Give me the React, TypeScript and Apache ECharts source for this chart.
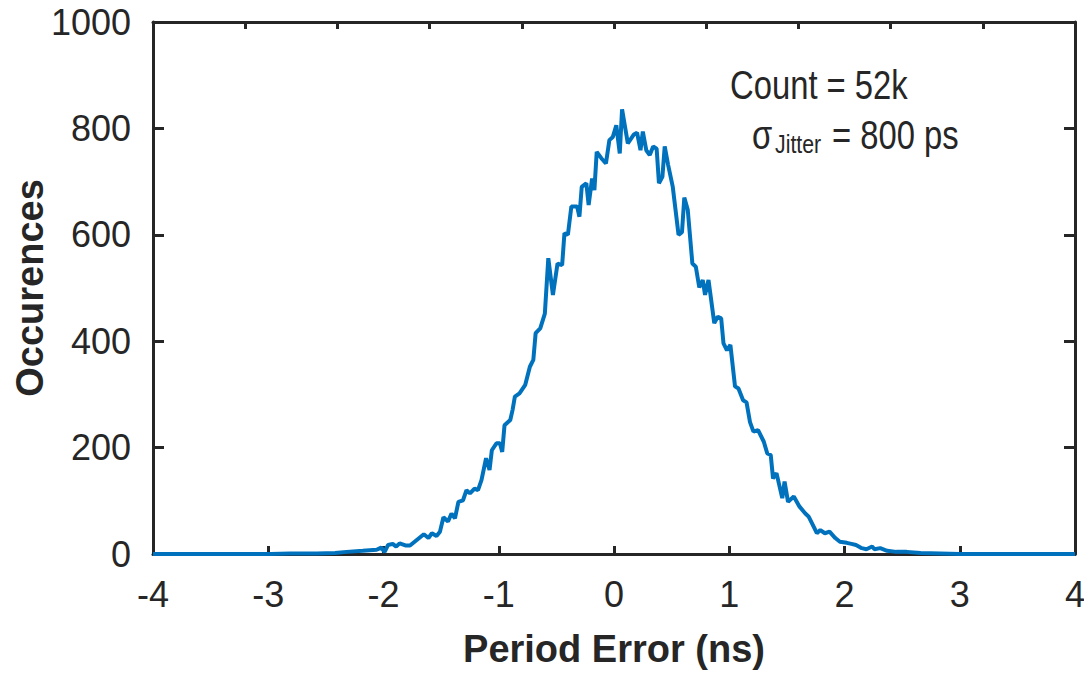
import React, { useEffect, useRef } from "react";
import * as echarts from "echarts";

const errNs: number[] = [
  -4.0, -3.6, -3.2, -2.98, -2.81, -2.58, -2.42, -2.32, -2.18, -2.06,
  -2.02, -1.99, -1.96, -1.92, -1.89, -1.86, -1.81, -1.77, -1.73, -1.65,
  -1.61, -1.58, -1.54, -1.51, -1.48, -1.44, -1.41, -1.38, -1.35, -1.31,
  -1.28, -1.25, -1.21, -1.18, -1.15, -1.11, -1.08, -1.06, -1.02, -0.99,
  -0.97, -0.95, -0.9, -0.88, -0.86, -0.82, -0.77, -0.73, -0.7, -0.68,
  -0.64, -0.6, -0.57, -0.53, -0.49, -0.45, -0.43, -0.4, -0.37, -0.32,
  -0.3, -0.28, -0.24, -0.22, -0.19, -0.17, -0.15, -0.11, -0.07, -0.04,
  -0.01, 0.02, 0.05, 0.07, 0.12, 0.17, 0.2, 0.23, 0.25, 0.28,
  0.31, 0.34, 0.37, 0.39, 0.42, 0.44, 0.47, 0.51, 0.56, 0.59,
  0.61, 0.64, 0.68, 0.71, 0.74, 0.77, 0.79, 0.82, 0.87, 0.9,
  0.93, 0.95, 0.98, 1.01, 1.05, 1.08, 1.12, 1.15, 1.18, 1.21,
  1.25, 1.3, 1.33, 1.36, 1.38, 1.41, 1.46, 1.48, 1.51, 1.56,
  1.61, 1.66, 1.69, 1.74, 1.76, 1.79, 1.83, 1.87, 1.92, 1.96,
  2.02, 2.06, 2.1, 2.15, 2.19, 2.24, 2.26, 2.31, 2.37, 2.45,
  2.54, 2.66, 2.83, 3.0, 3.3, 3.6, 4.0,
];

const occurences: number[] = [
  0, 0, 0, 0, 1, 1, 2, 4, 6, 8,
  12, 4, 17, 19, 14, 20, 16, 16, 23, 37,
  30, 39, 34, 42, 69, 61, 76, 67, 98, 101,
  120, 114, 123, 120, 139, 180, 158, 195, 208, 208,
  192, 242, 252, 271, 296, 302, 318, 352, 365, 415,
  424, 452, 556, 487, 546, 543, 603, 600, 653, 653,
  634, 690, 697, 656, 706, 684, 756, 744, 734, 778,
  784, 806, 753, 836, 772, 788, 792, 759, 794, 759,
  750, 766, 762, 697, 709, 766, 731, 690, 600, 605,
  670, 647, 546, 540, 501, 515, 487, 515, 434, 446,
  443, 396, 383, 393, 315, 311, 289, 285, 248, 230,
  233, 211, 189, 186, 142, 152, 105, 136, 98, 108,
  89, 76, 70, 48, 39, 45, 39, 42, 30, 23,
  21, 19, 17, 11, 9, 14, 9, 11, 6, 4,
  4, 2, 1, 0, 0, 0, 0,
];

const X_MIN = -4;
const X_MAX = 4;
const Y_MIN = 0;
const Y_MAX = 1000;
const X_STEP = 1;
const X_TOP_STEP = 0.8;
const Y_STEP = 200;

const xName = "Period Error (ns)";
const yName = "Occurences";
const countText = "Count = 52k";
const sigmaText = "σ";
const sigmaSub = "Jitter";
const sigmaValue = "= 800 ps";

const FONT = "'Liberation Sans', Arial, sans-serif";
const INK = "#262626";
const AXIS_W = 3;

export default function App() {
  const ref = useRef<HTMLDivElement>(null);

  useEffect(() => {
    if (!ref.current) return;
    const chart = echarts.init(ref.current, undefined, { renderer: "svg" });
    const axisLine = { show: true, onZero: false, lineStyle: { color: INK, width: AXIS_W } };
    const tick = (length: number) => ({
      show: true,
      inside: true,
      length,
      lineStyle: { color: INK, width: AXIS_W },
    });
    chart.setOption({
      animation: false,
      backgroundColor: "#ffffff",
      grid: {
        left: 153,
        right: 9,
        top: 22,
        bottom: 121,
        containLabel: false,
        outerBoundsMode: "none",
      },
      xAxis: [
        {
          type: "value",
          position: "bottom",
          min: X_MIN,
          max: X_MAX,
          interval: X_STEP,
          axisLine,
          axisTick: tick(8),
          axisLabel: {
            show: true,
            margin: 22,
            color: INK,
            fontFamily: FONT,
            fontSize: 36,
            formatter: (v: number) => String(v),
          },
          splitLine: { show: false },
          name: xName,
          nameLocation: "middle",
          nameGap: 76,
          nameMoveOverlap: false,
          nameTextStyle: { color: INK, fontFamily: FONT, fontSize: 38, fontWeight: "bold" },
        },
        {
          type: "value",
          position: "top",
          min: X_MIN,
          max: X_MAX,
          interval: X_TOP_STEP,
          axisLine,
          axisTick: tick(7),
          axisLabel: { show: false },
          splitLine: { show: false },
        },
      ],
      yAxis: [
        {
          type: "value",
          position: "left",
          min: Y_MIN,
          max: Y_MAX,
          interval: Y_STEP,
          axisLine,
          axisTick: tick(11),
          axisLabel: {
            show: true,
            margin: 22,
            color: INK,
            fontFamily: FONT,
            fontSize: 36,
            formatter: (v: number) => String(v),
          },
          splitLine: { show: false },
          name: yName,
          nameLocation: "middle",
          nameGap: 104,
          nameMoveOverlap: false,
          nameRotate: 90,
          nameTextStyle: { color: INK, fontFamily: FONT, fontSize: 38, fontWeight: "bold" },
        },
        {
          type: "value",
          position: "right",
          min: Y_MIN,
          max: Y_MAX,
          interval: Y_STEP,
          axisLine,
          axisTick: tick(11),
          axisLabel: { show: false },
          splitLine: { show: false },
        },
      ],
      series: [
        {
          type: "line",
          xAxisIndex: 0,
          yAxisIndex: 0,
          data: errNs.map((x, i) => [x, occurences[i]]),
          showSymbol: false,
          symbol: "none",
          lineStyle: { color: "#0072BD", width: 4 },
          z: 1,
        },
      ],
      graphic: [
        {
          type: "text",
          x: 730,
          y: 65,
          scaleX: 0.82,
          style: { text: countText, fill: INK, font: `40px ${FONT}` },
        },
        {
          type: "text",
          x: 752,
          y: 115,
          scaleX: 0.82,
          style: { text: sigmaText, fill: INK, font: `40px ${FONT}` },
        },
        {
          type: "text",
          x: 775,
          y: 131,
          scaleX: 0.82,
          style: { text: sigmaSub, fill: INK, font: `26px ${FONT}` },
        },
        {
          type: "text",
          x: 832,
          y: 115,
          scaleX: 0.82,
          style: { text: sigmaValue, fill: INK, font: `40px ${FONT}` },
        },
      ],
    });
    return () => chart.dispose();
  }, []);

  return (
    <div
      ref={ref}
      style={{ position: "fixed", left: 0, top: 0, width: 1084, height: 675, background: "#fff" }}
    />
  );
}
